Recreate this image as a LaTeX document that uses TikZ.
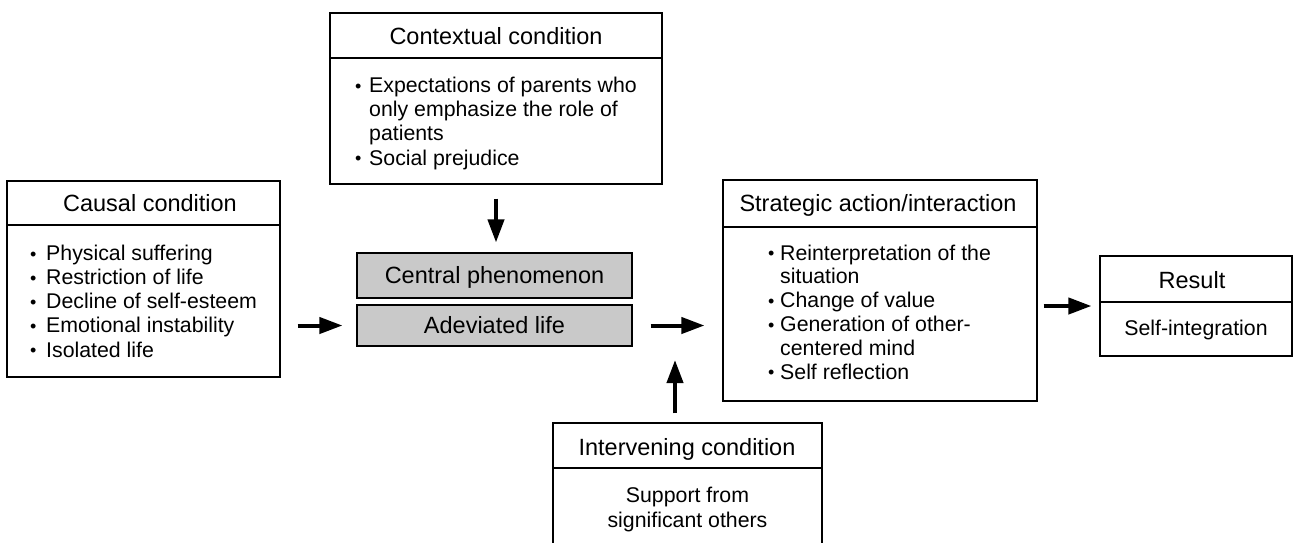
\documentclass[tikz,border=0pt]{standalone}
\usepackage{fontspec}
\setmainfont{Liberation Sans}
\usetikzlibrary{arrows.meta,calc}
\newcommand\bul[1]{\makebox[#1][l]{\raisebox{0.3pt}{\fontsize{18}{18}\selectfont •}}}
\tikzset{
  frame/.style={draw=black, line width=1.1pt, inner sep=0pt},
  ttl/.style={font=\fontsize{23.5}{26}\selectfont, anchor=base, inner sep=0pt},
  bodytxt/.style={font=\fontsize{21.3}{24.1}\selectfont, anchor=base west, align=left, inner sep=0pt},
  ctrtxt/.style={font=\fontsize{21.3}{24.1}\selectfont, anchor=base, align=center, inner sep=0pt},
  cbox/.style={frame, fill=black!21, minimum width=275pt},
  bigarrow/.style={line width=4pt, -{Triangle[length=23pt,width=16pt]}},
  divider/.style={line width=1.1pt},
}
\begin{document}
\begin{tikzpicture}[x=1pt,y=-1pt]
\path[use as bounding box] (0,0) rectangle (1294,542);
\clip (0,0) rectangle (1294,542);
\fill[white] (0,0) rectangle (1294,542);

% boxes
\node[frame, minimum width=332pt, minimum height=171pt] (ctx) at (496,98.5) {};
\node[frame, minimum width=273pt, minimum height=196pt] (cau) at (143.5,279) {};
\node[cbox, minimum height=45pt] (cen1) at (494.5,275.5) {};
\node[cbox, minimum height=41pt] (cen2) at (494.5,325.5) {};
\node[frame, minimum width=314pt, minimum height=221pt] (str) at (880,290.5) {};
\node[frame, minimum width=192pt, minimum height=100pt] (res) at (1196,306) {};
\node[frame, minimum width=269pt, minimum height=137pt] (int) at (687.5,491.5) {};

% dividers
\draw[divider] (ctx.west |- 0,58) -- (ctx.east |- 0,58);
\draw[divider] (cau.west |- 0,225) -- (cau.east |- 0,225);
\draw[divider] (str.west |- 0,227) -- (str.east |- 0,227);
\draw[divider] (res.west |- 0,302) -- (res.east |- 0,302);
\draw[divider] (int.west |- 0,468) -- (int.east |- 0,468);

% titles
\node[ttl] (ctxT) at (496,44) {Contextual condition};
\node[ttl] (cauT) at (150,211) {Causal condition};
\node[ttl] (strT) at (878,211) {Strategic action/interaction};
\node[ttl] (resT) at (1192,288) {Result};
\node[ttl] (intT) at (687,455) {Intervening condition};
\node[ttl] (cen1T) at (494.5,283) {Central phenomenon};
\node[ttl] (cen2T) at (494.5,333) {Adeviated life};

% bodies (anchor = baseline of last line)
\node[bodytxt] (ctxB) at (355,165) {\bul{14pt}Expectations of parents who\\
  \hspace*{14pt}only emphasize the role of\\
  \hspace*{14pt}patients\\
  \bul{14pt}Social prejudice};
\node[bodytxt] (cauB) at (30,357) {\bul{16pt}Physical suffering\\
  \bul{16pt}Restriction of life\\
  \bul{16pt}Decline of self-esteem\\
  \bul{16pt}Emotional instability\\
  \bul{16pt}Isolated life};
\node[bodytxt, font=\fontsize{21.3}{23.8}\selectfont] (strB) at (768,379) {\bul{12pt}Reinterpretation of the\\
  \hspace*{12pt}situation\\
  \bul{12pt}Change of value\\
  \bul{12pt}Generation of other-\\
  \hspace*{12pt}centered mind\\
  \bul{12pt}Self reflection};
\node[ctrtxt] (resB) at (1196,335) {Self-integration};
\node[ctrtxt] (intB) at (687.5,527) {Support from\\significant others};

% arrows
\coordinate (up) at (675,360);
\draw[bigarrow, shorten <=14pt, shorten >=10pt] (ctx.south) -- (ctx.south |- cen1.north);
\draw[bigarrow, shorten <=17pt, shorten >=14pt] (cau.east |- cen2.west) -- (cen2.west);
\draw[bigarrow, shorten <=18pt, shorten >=18pt] (cen2.east) -- (str.west |- cen2.east);
\draw[bigarrow, shorten <=6pt, shorten >=8pt] (str.east |- res.west) -- (res.west);
\draw[bigarrow, shorten <=9pt] (int.north -| up) -- (up);
\end{tikzpicture}
\end{document}
